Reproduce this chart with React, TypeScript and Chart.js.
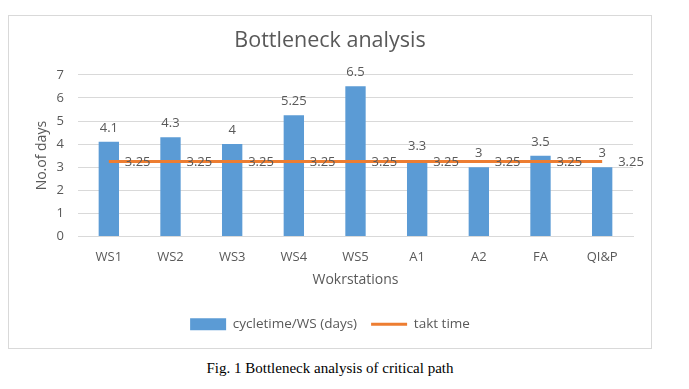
import React, { useEffect, useRef } from "react";
import { Chart, registerables } from "chart.js";

Chart.register(...registerables);

const categories = ["WS1", "WS2", "WS3", "WS4", "WS5", "A1", "A2", "FA", "QI&P"];
const cycleTime = [4.1, 4.3, 4, 5.25, 6.5, 3.3, 3, 3.5, 3];
const taktTime = [3.25, 3.25, 3.25, 3.25, 3.25, 3.25, 3.25, 3.25, 3.25];
const barLabels = ["4.1", "4.3", "4", "5.25", "6.5", "3.3", "3", "3.5", "3"];
const lineLabels = ["3.25", "3.25", "3.25", "3.25", "3.25", "3.25", "3.25", "3.25", "3.25"];

const FONT = "'Open Sans', sans-serif";
const TEXT = "#595959";
const BLUE = "#5B9BD5";
const ORANGE = "#ED7D31";

const labelPlugin = {
  id: "dataLabels",
  afterDatasetsDraw(chart: any) {
    const ctx = chart.ctx;
    ctx.save();
    ctx.font = `13px ${FONT}`;
    ctx.fillStyle = TEXT;
    const barMeta = chart.getDatasetMeta(0);
    barMeta.data.forEach((el: any, i: number) => {
      ctx.textAlign = "center";
      ctx.textBaseline = "alphabetic";
      ctx.fillText(barLabels[i], el.x, el.y - 10);
    });
    const lineMeta = chart.getDatasetMeta(1);
    lineMeta.data.forEach((el: any, i: number) => {
      ctx.textAlign = "left";
      ctx.textBaseline = "middle";
      ctx.fillText(lineLabels[i], el.x + 16, el.y + 1);
    });
    ctx.restore();
  },
};

export default function App() {
  const ref = useRef<HTMLCanvasElement>(null);
  useEffect(() => {
    if (!ref.current) return;
    const chart = new Chart(ref.current, {
      type: "bar",
      data: {
        labels: categories,
        datasets: [
          {
            type: "bar",
            label: "cycletime/WS (days)",
            data: cycleTime,
            backgroundColor: BLUE,
            barPercentage: 0.33,
            categoryPercentage: 1,
            order: 2,
          } as any,
          {
            type: "line",
            label: "takt time",
            data: taktTime,
            borderColor: ORANGE,
            backgroundColor: ORANGE,
            borderWidth: 3,
            pointRadius: 0,
            order: 1,
          } as any,
        ],
      },
      options: {
        animation: false,
        responsive: false,
        maintainAspectRatio: false,
        layout: { padding: { left: 0, right: 0, top: 0, bottom: 7 } },
        plugins: {
          title: {
            display: true,
            text: "Bottleneck analysis",
            color: TEXT,
            font: { family: FONT, size: 21.5, weight: "normal" },
            padding: { top: 12, bottom: 21 },
          },
          legend: {
            position: "bottom",
            labels: {
              color: TEXT,
              font: { family: FONT, size: 13.5 },
              usePointStyle: true,
              pointStyleWidth: 36,
              boxHeight: 12,
              padding: 14,
              generateLabels: () => [
                {
                  text: "cycletime/WS (days)",
                  fillStyle: BLUE,
                  strokeStyle: BLUE,
                  lineWidth: 0,
                  pointStyle: "rect",
                  datasetIndex: 0,
                  fontColor: TEXT,
                },
                {
                  text: "takt time",
                  fillStyle: ORANGE,
                  strokeStyle: ORANGE,
                  lineWidth: 3,
                  pointStyle: "line",
                  datasetIndex: 1,
                  fontColor: TEXT,
                },
              ],
            },
          },
          tooltip: { enabled: false },
        },
        scales: {
          x: {
            grid: { display: false, drawTicks: false },
            border: { color: "#d9d9d9" },
            ticks: { color: TEXT, font: { family: FONT, size: 13 }, padding: 13 },
            title: {
              display: true,
              text: "Wokrstations",
              color: TEXT,
              font: { family: FONT, size: 14 },
              padding: { top: 15, bottom: 15 },
            },
            afterFit: (s: any) => {
              s.height = 67;
            },
          },
          y: {
            min: 0,
            max: 7,
            ticks: { stepSize: 1, color: TEXT, font: { family: FONT, size: 13 }, padding: 14 },
            grid: { color: "#d9d9d9", drawTicks: false },
            border: { display: false },
            title: {
              display: true,
              text: "No.of days",
              color: TEXT,
              font: { family: FONT, size: 14 },
              padding: { top: 25, bottom: 0 },
            },
            afterFit: (s: any) => {
              s.width = 69;
            },
          },
          yRight: {
            position: "right",
            display: true,
            grid: { display: false, drawTicks: false },
            border: { display: false },
            ticks: { display: false },
            afterFit: (s: any) => {
              s.width = 18;
            },
          },
        },
      },
      plugins: [labelPlugin],
    });
    return () => chart.destroy();
  }, []);

  return (
    <div>
      <div
        style={{
          width: 644,
          height: 334,
          marginTop: 7,
          border: "1px solid #d9d9d9",
          boxSizing: "border-box",
        }}
      >
        <canvas ref={ref} width={642} height={332} style={{ display: "block" }} />
      </div>
      <div
        style={{
          width: 644,
          textAlign: "center",
          fontFamily: "'Liberation Serif', 'Times New Roman', serif",
          fontSize: 15,
          lineHeight: "17px",
          marginTop: 11,
        }}
      >
        Fig. 1 Bottleneck analysis of critical path
      </div>
    </div>
  );
}
